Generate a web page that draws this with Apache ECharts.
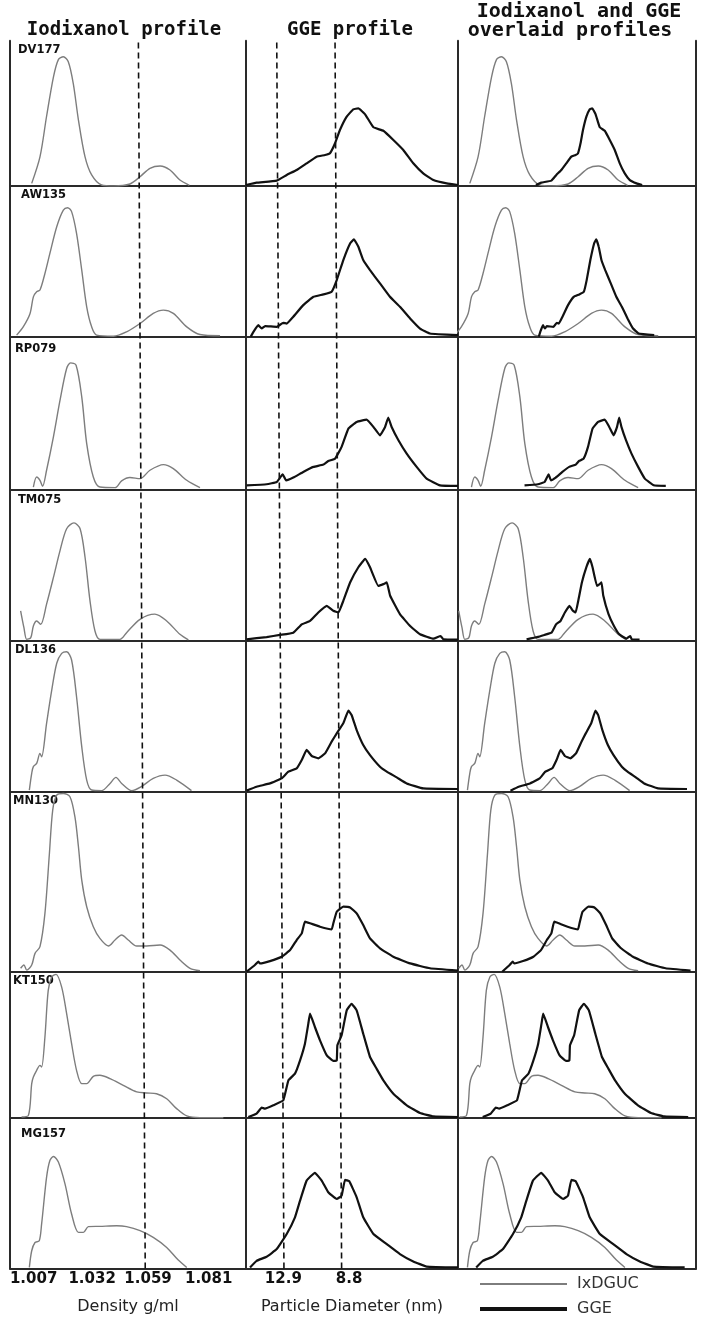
<!DOCTYPE html>
<html>
<head>
<meta charset="utf-8">
<script src="https://cdn.jsdelivr.net/npm/echarts@6.0.0/dist/echarts.min.js"></script>
<style>
  html, body { margin: 0; padding: 0; background: #fff; }
  #chart { width: 703px; height: 1317px; }
</style>
</head>
<body>
<div id="chart"></div>
<script>
// samples, top to bottom
const samples = ['DV177', 'AW135', 'RP079', 'TM075', 'DL136', 'MN130', 'KT150', 'MG157'];

// iodixanol profiles: [gradient position %, signal % of panel]
const ix_DV177 = [[9.2,1.8],[12.7,20],[15.5,48],[18.4,75],[20.5,87],[22.6,89],[24.7,85.5],[26.8,70.6],[29,45.4],[31.8,20],[34.6,7.6],[38.8,0.7],[44,0],[50.8,1.4],[55.1,6.4],[59.3,12.2],[63.6,13.8],[67.8,11],[72,4.1],[76,0.5]];
const ix_AW135 = [[2.8,1.1],[5.6,6.6],[8.5,15.5],[9.9,26.5],[11.3,29.9],[12.7,31],[14.8,42],[16.9,55.3],[19.8,73],[22.6,84],[24.4,85.6],[26.1,83],[28.2,68.6],[30.4,44.2],[32.5,19.9],[34.6,6.6],[36.7,1.1],[43.8,0.4],[49.4,3.3],[55.1,8.8],[60.7,15.5],[65,17.7],[69.2,15.5],[74.9,6.6],[80.5,1.5],[89,0.7]];
const ix_RP079 = [[9.9,1.5],[11.3,8.1],[12.7,5.9],[13.8,2],[15.5,12.5],[18.4,34.4],[21.2,58.4],[24,79.2],[25.7,82.9],[28,81.4],[30.4,60.6],[32.5,30],[35.3,8.1],[38.1,1.5],[44.5,1.1],[47.3,5.5],[50.8,7.7],[55.1,7],[59.3,12.5],[65,16.2],[69.2,13.6],[74.9,5.9],[80.5,1.1]];
const ix_TM075 = [[4.5,19.9],[5.9,8.8],[7.1,1.1],[8.8,2.2],[9.9,9.9],[11.3,13.2],[13,11],[15.5,24.3],[18.4,41.9],[21.2,59.6],[24,74],[27.1,77.9],[29.7,74],[31.8,55.2],[33.9,26.5],[36,6.6],[38.1,1.1],[46.6,1.1],[49.4,5.5],[55.1,14.3],[61.4,17.7],[66.4,13.2],[72,4.4],[75.6,0.7]];
const ix_DL136 = [[8.2,1.1],[9.2,12.2],[9.9,16.6],[11.3,18.8],[12.7,25.4],[13.4,23.2],[15.5,45.4],[17.7,67.5],[19.8,85.2],[21.9,91.8],[24,92.9],[26.1,87.4],[28.2,63],[30.4,29.9],[32.5,7.7],[34.6,1.1],[38.8,0.7],[42.4,5.5],[44.9,9.5],[47.3,5.5],[51.6,0.7],[55.6,3.3],[60.7,8.8],[65.7,11],[70.6,7.7],[76.9,0.7]];
const ix_MN130 = [[4.5,1.9],[5.9,3.7],[7.1,0.9],[9.2,3.7],[10.6,10.2],[12.7,13.9],[14.8,32.4],[16.7,65.7],[18.1,89.8],[19.8,98.1],[22.6,99],[25.4,97.2],[27.5,86.1],[29,69.4],[30.4,50.9],[32.5,36.1],[35.3,25],[38.1,18.5],[41.7,14.3],[44.5,17.6],[47.3,20.4],[50.1,17.6],[53.7,14.3],[57.9,14.3],[63.6,14.8],[67.8,12],[72,6.5],[76.3,1.9],[80.5,0.6]];
const ix_KT150 = [[4.9,0.7],[7.8,1.8],[9.2,23.5],[9.9,28],[11.3,32.6],[12.7,36],[13.4,34.9],[14.8,55.4],[16.2,87.2],[17.7,96.4],[19.5,98.2],[21.9,89.5],[24,71.3],[26.1,50.8],[28.2,32.6],[30.4,23.5],[32.5,23.5],[35.3,28.5],[38.1,29.2],[42.4,26.9],[48,22.3],[53.7,17.8],[57.9,17.1],[62.1,16.6],[66.4,13.2],[70.6,6.4],[74.9,1.4],[80.5,0.2],[90.4,0.2]];
const ix_MG157 = [[8.2,0.7],[9.2,11.8],[10.6,17.3],[12.4,18.4],[13.4,29.6],[15.5,60.7],[16.9,71.8],[18.4,74.4],[20.5,70.7],[23.3,56.2],[26.1,36.2],[29,24],[31.1,24],[33.2,27.8],[38.1,28],[45.2,28.4],[49.4,27.8],[55.1,25.1],[60.7,20.7],[66.4,14],[71.3,5.6],[74.9,0.7]];

// GGE profiles: [lane position %, signal % of panel]
const gge_DV177 = [[0,0.7],[5,2.3],[14.5,3.7],[19.2,7.6],[23.9,11],[28.6,15.6],[33.3,20.2],[37.3,21.3],[39.6,22.5],[42,29.4],[44.3,38.5],[47.5,47.7],[50.6,52.8],[53,53.4],[56.1,49.5],[60.1,40.4],[64.8,38],[69.5,31.7],[74.2,24.8],[78.9,15.6],[83.6,8.7],[88.4,4.1],[94.7,1.8],[100,0.7]];
const gge_AW135 = [[2.2,0],[3.5,3.3],[5.8,7.7],[7.4,5.5],[9,7.1],[14.5,6.6],[17.6,9.3],[19.2,8.8],[22.3,13.3],[27,21],[31.8,26.5],[36.5,28.1],[40.4,29.9],[42.8,37.6],[45.9,50.9],[49.1,61.9],[50.9,64.6],[53,59.7],[55.3,50.9],[58.5,44.2],[63.2,35.4],[67.9,26.5],[72.6,19.9],[77.4,12.2],[82.1,5.5],[86.8,2.2],[100,1.1]];
const gge_RP079 = [[0.3,2.6],[9.7,3.3],[14.5,4.8],[17.3,9.8],[18.9,5.9],[22.3,7.7],[27,11.4],[31.8,14.7],[36.5,16.2],[38.8,18.6],[42,20.1],[45.1,27.8],[48.3,39.8],[52.2,44.2],[56.9,45.7],[60.1,40.9],[63.2,35.4],[65.6,40.9],[67.1,47],[68.7,40.9],[71.9,32.2],[75.8,23.4],[80.5,14.7],[85.2,7],[91.5,2.6],[100,2.2]];
const gge_TM075 = [[0.3,1.1],[9.7,2.6],[16,4],[22.3,5.5],[26.3,11],[30.2,13.2],[34.1,18.8],[38.1,23.2],[41.2,19.9],[43.6,18.8],[45.9,26.5],[49.1,38.6],[53,48.6],[56.2,54.1],[58.5,48.6],[62.4,36.4],[64.8,37.5],[66.4,38.6],[68,29.8],[72.6,17.7],[77.4,9.9],[82.1,4.4],[88.4,1.5],[91.8,3.3],[93.1,1.1],[100,0.9]];
const gge_DL136 = [[0.3,0.7],[5,3.3],[11.3,5.5],[16.8,8.8],[20,13.3],[23.9,15.5],[26.3,21],[28.6,27.7],[31,23.7],[34.1,22.1],[37.3,25.4],[40.4,33.2],[42.8,38.7],[45.9,45.4],[48.3,53.8],[49.8,50.9],[52.2,40.9],[55.3,31],[58.5,24.3],[63.2,16.6],[66.4,13.3],[71.1,9.5],[75.8,5.5],[83.6,2.2],[100,1.8]];
const gge_MN130 = [[0.3,0],[4.2,3.7],[5.8,5.6],[6.6,4.6],[11.3,5.9],[16.8,8.3],[20.8,12],[23.9,17.6],[26.3,21.3],[27.8,27.8],[30.2,26.9],[34.9,25],[40.4,23.5],[41.2,26.9],[42.8,33.3],[45.9,36.1],[49.1,35.7],[52.2,32.4],[55.3,25.9],[58.5,18.5],[63.2,13],[69.5,8.3],[77.4,4.6],[86.8,1.9],[100,0.6]];
const gge_KT150 = [[1.1,0.7],[5,3],[7.4,7.1],[9,6.4],[12.9,8.7],[17.6,12.1],[20,25.7],[23.1,30.3],[25.5,39.4],[27.8,50.8],[29.4,64.5],[30.2,71.3],[32.5,62.2],[34.9,53.1],[38.1,42.8],[41.2,39],[42.8,39.4],[43.1,49.7],[45.1,56.5],[47.5,73.6],[49.8,78.1],[52.2,73.6],[55.3,57.6],[58.5,41.7],[61.6,33.7],[64.8,25.7],[69.5,16.6],[75.8,8.7],[82.1,3.4],[88.4,1.1],[100,0.7]];
const gge_MG157 = [[1.9,0.7],[5,5.1],[9.7,7.8],[14.5,12.9],[19.2,22.9],[23.1,34],[25.5,45.1],[28.6,58.4],[32.5,63.6],[35.7,58.4],[38.8,50.7],[42.8,46.2],[45.1,48.4],[46.7,58.9],[48.7,58],[52.2,47.3],[55.3,34],[60.1,22.9],[66.4,16.2],[72.6,9.6],[78.9,4.7],[85.2,1.3],[100,0.7]];

// where the GGE trace sits on the iodixanol scale in the overlay (start, stretch)
const ggeOverlayStart = [37.2, 37.3, 32.2, 33.1, 26.2, 22.7, 13.7, 10.2];
const ggeOverlayScale = [0.45, 0.5, 0.6, 0.48, 0.75, 0.8, 0.88, 0.9];

// dashed guides: [x at bottom, 0], [x at top, 1]
const densityGuide = [[57.3, 0], [54.4, 1]];
const guide129 = [[17.9, 0], [14.5, 1]];
const guide88 = [[45.1, 0], [42, 1]];

// bottom tick labels
const densityTickPos = [10, 34.8, 58.5, 84.2];
const densityTickLabels = ['1.007', '1.032', '1.059', '1.081'];
const sizeTickPos = [17.6, 48.6];
const sizeTickLabels = ['12.9', '8.8'];

const ixProfiles = [ix_DV177, ix_AW135, ix_RP079, ix_TM075, ix_DL136, ix_MN130, ix_KT150, ix_MG157];
const ggeProfiles = [gge_DV177, gge_AW135, gge_RP079, gge_TM075, gge_DL136, gge_MN130, gge_KT150, gge_MG157];

// layout
const rowEdges = [40.7, 186, 336.8, 489.3, 641, 791.7, 971.7, 1118, 1268.5];
const colEdges = [10, 246, 458, 696];
const colRange = [[0, 100], [0, 100], [4.2, 105]];
const labelPos = [[18, 9], [21, 9], [15, 12], [18, 11], [15, 9], [13, 9], [13, 9], [21, 16]];

const GREY = '#7d7d7d';
const BLACK = '#111';
const frameLine = { show: true, onZero: false, lineStyle: { color: '#2a2a2a', width: 2 } };
const tickFont = { show: true, margin: 3, fontFamily: 'DejaVu Sans', fontWeight: 'bold', fontSize: 15, color: '#111' };
const nameFont = { fontFamily: 'DejaVu Sans', fontSize: 16, color: '#222' };

const grid = [], xAxis = [], yAxis = [], series = [];

function addPanel(r, c) {
  const g = grid.length;
  grid.push({
    left: colEdges[c], top: rowEdges[r],
    width: colEdges[c + 1] - colEdges[c], height: rowEdges[r + 1] - rowEdges[r]
  });
  const xa = {
    type: 'value', gridIndex: g, min: colRange[c][0], max: colRange[c][1],
    axisLine: frameLine, axisTick: { show: false }, splitLine: { show: false }, axisLabel: { show: false }
  };
  if (r === samples.length - 1 && c === 0) {
    xa.axisLabel = Object.assign({}, tickFont, {
      customValues: densityTickPos,
      formatter: v => densityTickLabels[densityTickPos.indexOf(v)]
    });
    xa.name = 'Density g/ml';
    xa.nameLocation = 'middle';
    xa.nameGap = 30;
    xa.nameTextStyle = nameFont;
  }
  if (r === samples.length - 1 && c === 1) {
    xa.axisLabel = Object.assign({}, tickFont, {
      customValues: sizeTickPos,
      formatter: v => sizeTickLabels[sizeTickPos.indexOf(v)]
    });
    xa.name = 'Particle Diameter (nm)';
    xa.nameLocation = 'middle';
    xa.nameGap = 30;
    xa.nameTextStyle = nameFont;
  }
  xAxis.push(xa);
  const xi = xAxis.length - 1;
  yAxis.push({
    type: 'value', gridIndex: g, min: 0, max: 100,
    axisLine: frameLine, axisTick: { show: false }, splitLine: { show: false }, axisLabel: { show: false }
  });
  const yi = yAxis.length - 1;
  if (c === 2) {
    // right border of the last column
    yAxis.push({
      type: 'value', gridIndex: g, min: 0, max: 100, position: 'right',
      axisLine: frameLine, axisTick: { show: false }, splitLine: { show: false }, axisLabel: { show: false }
    });
  }
  return [xi, yi];
}

function ixSeries(data, ax) {
  return {
    type: 'line', name: 'IxDGUC', data: data, xAxisIndex: ax[0], yAxisIndex: ax[1],
    symbol: 'none', smooth: 0.3, color: GREY, itemStyle: { color: GREY },
    lineStyle: { color: GREY, width: 1.4 }, silent: true, z: 3
  };
}
function ggeSeries(data, ax) {
  return {
    type: 'line', name: 'GGE', data: data, xAxisIndex: ax[0], yAxisIndex: ax[1],
    symbol: 'none', smooth: 0.1, color: BLACK, itemStyle: { color: BLACK },
    lineStyle: { color: BLACK, width: 2.2 }, silent: true, z: 4
  };
}

samples.forEach((s, r) => {
  const a1 = addPanel(r, 0);
  series.push(ixSeries(ixProfiles[r], a1));
  const a2 = addPanel(r, 1);
  series.push(ggeSeries(ggeProfiles[r], a2));
  const a3 = addPanel(r, 2);
  series.push(ixSeries(ixProfiles[r], a3));
  const moved = ggeProfiles[r].map(p => [ggeOverlayStart[r] + ggeOverlayScale[r] * p[0], p[1]]);
  series.push(ggeSeries(moved, a3));
});

// full-height grids for the dashed guides
function addGuideGrid(c) {
  const g = grid.length;
  grid.push({
    left: colEdges[c], top: rowEdges[0],
    width: colEdges[c + 1] - colEdges[c], height: rowEdges[rowEdges.length - 1] - rowEdges[0]
  });
  xAxis.push({ type: 'value', gridIndex: g, min: 0, max: 100, show: false });
  yAxis.push({ type: 'value', gridIndex: g, min: 0, max: 1, show: false });
  return [xAxis.length - 1, yAxis.length - 1];
}
function guideSeries(data, ax) {
  return {
    type: 'line', data: data, xAxisIndex: ax[0], yAxisIndex: ax[1], symbol: 'none',
    lineStyle: { color: '#111', width: 1.6, type: [6, 4] }, silent: true, z: 5
  };
}
const g1 = addGuideGrid(0);
series.push(guideSeries(densityGuide, g1));
const g2 = addGuideGrid(1);
series.push(guideSeries(guide129, g2));
series.push(guideSeries(guide88, g2));

const graphic = [
  { type: 'text', x: 124, y: 30, style: { text: 'Iodixanol profile', font: 'bold 19px "DejaVu Sans Mono"', fill: '#111', align: 'center', verticalAlign: 'middle' } },
  { type: 'text', x: 350, y: 30, style: { text: 'GGE profile', font: 'bold 19px "DejaVu Sans Mono"', fill: '#111', align: 'center', verticalAlign: 'middle' } },
  { type: 'text', x: 579, y: 12, style: { text: 'Iodixanol and GGE', font: 'bold 20px "DejaVu Sans Mono"', fill: '#111', align: 'center', verticalAlign: 'middle' } },
  { type: 'text', x: 570, y: 31, style: { text: 'overlaid profiles', font: 'bold 20px "DejaVu Sans Mono"', fill: '#111', align: 'center', verticalAlign: 'middle' } }
];
samples.forEach((s, r) => {
  graphic.push({
    type: 'text', x: labelPos[r][0], y: rowEdges[r] + labelPos[r][1],
    style: { text: s, font: 'bold 11.5px "DejaVu Sans"', fill: '#111', align: 'left', verticalAlign: 'middle' }
  });
});

const legendBase = {
  orient: 'vertical', left: 480, padding: 0, itemWidth: 87, icon: 'rect', selectedMode: false,
  textStyle: { fontFamily: 'DejaVu Sans', fontSize: 16, color: '#333', padding: [0, 0, 0, 5] }
};

const chart = echarts.init(document.getElementById('chart'));
chart.setOption({
  animation: false,
  backgroundColor: '#fff',
  grid: grid,
  xAxis: xAxis,
  yAxis: yAxis,
  legend: [
    Object.assign({}, legendBase, { data: ['IxDGUC'], top: 1276, itemHeight: 2 }),
    Object.assign({}, legendBase, { data: ['GGE'], top: 1301, itemHeight: 4 })
  ],
  graphic: graphic,
  series: series
});
</script>
</body>
</html>
